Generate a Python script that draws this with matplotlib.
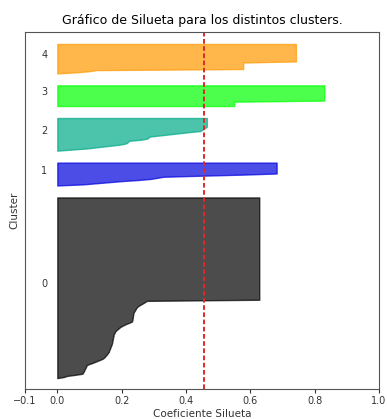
import numpy as np
import matplotlib
matplotlib.use("Agg")
import matplotlib.pyplot as plt
import matplotlib.cm as cm

# valores de silueta ordenados (de menor a mayor)
sil_c0 = ([0.000, 0.020, 0.030, 0.055, 0.078, 0.080, 0.082, 0.084, 0.085, 0.087,
           0.089, 0.090, 0.092, 0.100, 0.110, 0.118, 0.126, 0.135, 0.142, 0.146,
           0.149, 0.152, 0.155, 0.157, 0.160, 0.161, 0.162, 0.164, 0.165, 0.166,
           0.168, 0.169, 0.170, 0.171, 0.171, 0.172, 0.173, 0.173, 0.174, 0.175,
           0.175, 0.177, 0.179, 0.180, 0.184, 0.188, 0.192, 0.196, 0.202, 0.209,
           0.216, 0.225, 0.232, 0.233, 0.234, 0.234, 0.235, 0.235, 0.236, 0.236,
           0.237, 0.239, 0.241, 0.243, 0.245, 0.247, 0.251, 0.256, 0.262, 0.268,
           0.273, 0.279]
          + [0.628] * 95)
sil_c1 = ([0.000, 0.080, 0.120, 0.160, 0.200, 0.250, 0.290, 0.310, 0.330, 0.450,
           0.580] + [0.682] * 11)
sil_c2 = ([0.000, 0.045, 0.092, 0.120, 0.150, 0.180, 0.205, 0.216, 0.220, 0.222,
           0.260, 0.279, 0.283, 0.289, 0.320, 0.350, 0.380, 0.410, 0.444, 0.450,
           0.455, 0.460] + [0.465] * 9)
sil_c3 = [0.550] * 5 + [0.830] * 15
sil_c4 = [0.000, 0.060, 0.100, 0.120] + [0.578] * 7 + [0.742] * 17

clusters = [sil_c0, sil_c1, sil_c2, sil_c3, sil_c4]
sil_media = 0.455
n_clusters = len(clusters)
xticks = [-0.1, 0, 0.2, 0.4, 0.6, 0.8, 1]

fig = plt.figure(figsize=(3.87, 4.19), dpi=100)
ax = fig.add_axes([0.065, 0.0716, 0.914, 0.852])

n_total = sum(len(c) for c in clusters)
ax.set_xlim([-0.1, 1])
ax.set_ylim([0, n_total + (n_clusters + 1) * 10])

y_lower = 10
for i, vals in enumerate(clusters):
    vals = np.sort(np.array(vals))
    size = vals.shape[0]
    y_upper = y_lower + size
    color = cm.nipy_spectral(float(i) / n_clusters)
    ax.fill_betweenx(np.arange(y_lower, y_upper), 0, vals,
                     facecolor=color, edgecolor=color, alpha=0.7)
    ax.text(-0.05, y_lower + 0.5 * size, str(i), fontsize=7, color="#333333")
    y_lower = y_upper + 10

# linea vertical con la silueta media
ax.axvline(x=sil_media, color="#dd2a2a", linestyle="--", linewidth=1.4,
           dashes=(2.4, 1.3))

ax.set_title("Gráfico de Silueta para los distintos clusters.", fontsize=9)
ax.set_xlabel("Coeficiente Silueta", fontsize=7.5, labelpad=2, color="#333333")
ax.set_ylabel("Cluster", fontsize=7.5, labelpad=4, color="#333333")
ax.set_yticks([])
ax.set_xticks(xticks)
ax.tick_params(axis="x", labelsize=7, length=3, pad=2, colors="#333333")
for s in ax.spines.values():
    s.set_color("#555555")

fig.savefig("out.png", dpi=100)
